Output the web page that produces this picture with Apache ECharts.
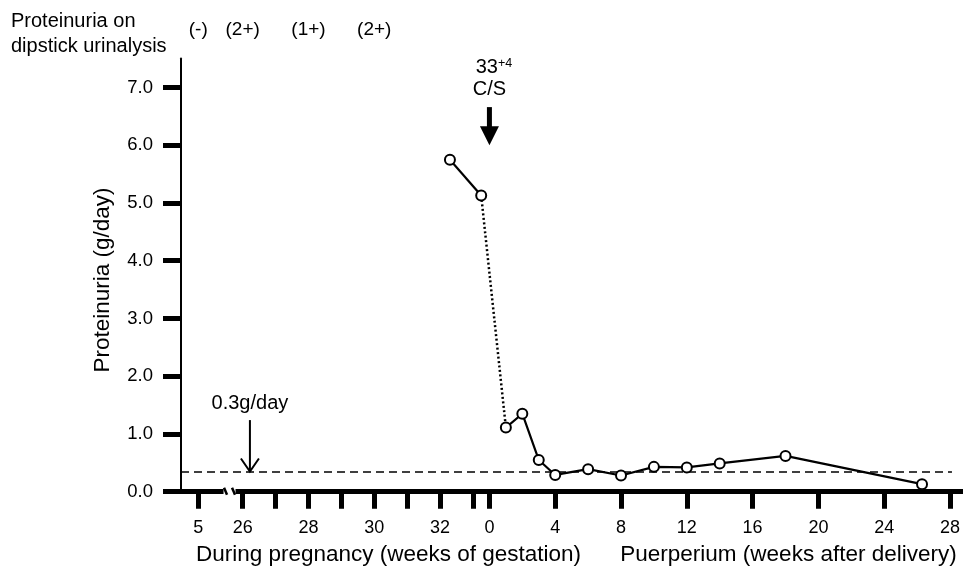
<!DOCTYPE html>
<html>
<head>
<meta charset="utf-8">
<script src="https://cdn.jsdelivr.net/npm/echarts@6/dist/echarts.min.js"></script>
<style>
html,body{margin:0;padding:0;background:#fff;}
#c{width:963px;height:566px;}
</style>
</head>
<body>
<div id="c"></div>
<script>
// ---------------- data ----------------
const pregTickWeeks  = [5, 26, 27, 28, 29, 30, 31, 32, 33];
const pregLabelWeeks = [5, 26, 28, 30, 32];
const postTickWeeks  = [0, 4, 8, 12, 16, 20, 24, 28];
const postLabelWeeks = [0, 4, 8, 12, 16, 20, 24, 28];
const yTicks = [0, 1, 2, 3, 4, 5, 6, 7];

const dipstickWeeks  = [5, 26, 28, 30];
const dipstickLabels = ['(-)', '(2+)', '(1+)', '(2+)'];

const pregWeeks  = [32.3, 33.25];          // weeks of gestation
const pregValues = [5.75, 5.13];           // g/day
const postWeeks  = [1, 2, 3, 4, 6, 8, 10, 12, 14, 18, 26.3]; // weeks after delivery
const postValues = [1.11, 1.35, 0.55, 0.29, 0.39, 0.28, 0.43, 0.42, 0.49, 0.62, 0.13];

const threshold = 0.35;         // drawn "0.3g/day" line
const thresholdLabel = '0.3g/day';
const deliveryLabel = ['33', '+4', 'C/S'];

// ---------------- axis mapping (composite time axis) ----------------
const EARLY_POS = 24.65;   // position of week 5 (before the axis break)
const DELIVERY_POS = 33.5; // gestational position of delivery (puerperium week 0)
const BREAK_POS = 25.6;
const X_MIN = 24.125, X_MAX = 47.89, THRESH_END = 47.56;
function pregU(w){ return w < 26 ? EARLY_POS : w; }
function postU(p){ return DELIVERY_POS + p / 2; }

const labelMap = {};
pregLabelWeeks.forEach(w => labelMap[pregU(w).toFixed(3)] = String(w));
postLabelWeeks.forEach(p => labelMap[postU(p).toFixed(3)] = String(p));
const tickVals = pregTickWeeks.map(pregU).concat(postTickWeeks.map(postU));
const labelVals = pregLabelWeeks.map(pregU).concat(postLabelWeeks.map(postU));
const dipMap = {};
dipstickWeeks.forEach((w, i) => dipMap[pregU(w).toFixed(3)] = dipstickLabels[i]);

const pregData = pregWeeks.map((w, i) => [pregU(w), pregValues[i]]);
const postData = postWeeks.map((p, i) => [postU(p), postValues[i]]);
const bridgeData = [pregData[pregData.length - 1], postData[0]];

const FONT = '"Liberation Sans", Arial, Helvetica, sans-serif';
const chart = echarts.init(document.getElementById('c'));

const markerStyle = { color: '#fff', borderColor: '#000', borderWidth: 2 };

const option = {
  animation: false,
  backgroundColor: '#fff',
  textStyle: { fontFamily: FONT, color: '#000' },
  grid: { left: 181, right: 0, top: 58.6, bottom: 74.3 },
  xAxis: [{
    type: 'value', min: X_MIN, max: X_MAX, position: 'bottom',
    splitLine: { show: false },
    axisLine: { lineStyle: { color: '#000', width: 5 } },
    axisTick: { customValues: tickVals, length: 17, lineStyle: { color: '#000', width: 5 } },
    axisLabel: { customValues: labelVals, margin: 27, fontSize: 18, color: '#000', fontFamily: FONT,
      formatter: v => labelMap[Number(v).toFixed(3)] || '' }
  }, {
    type: 'value', min: X_MIN, max: X_MAX, position: 'top',
    splitLine: { show: false },
    axisLine: { show: false },
    axisTick: { show: false },
    axisLabel: { customValues: dipstickWeeks.map(pregU), margin: 19, fontSize: 19, color: '#000', fontFamily: FONT,
      formatter: v => dipMap[Number(v).toFixed(3)] || '' }
  }],
  yAxis: {
    type: 'value', min: 0, max: 7.5,
    splitLine: { show: false },
    axisLine: { show: true, lineStyle: { color: '#000', width: 2 } },
    axisTick: { show: true, customValues: yTicks, length: 18, lineStyle: { color: '#000', width: 5 } },
    axisLabel: { customValues: yTicks, margin: 28, fontSize: 18.5, color: '#000', fontFamily: FONT,
      formatter: v => Number(v).toFixed(1) }
  },
  series: [
    {
      type: 'line', data: bridgeData, symbol: 'none', z: 2,
      lineStyle: { color: '#000', width: 2.5, type: [2, 2.5] }
    },
    {
      type: 'line', data: pregData, symbol: 'circle', symbolSize: 10, z: 3,
      lineStyle: { color: '#000', width: 2.2 }, itemStyle: markerStyle
    },
    {
      type: 'line', data: postData, symbol: 'circle', symbolSize: 10, z: 3,
      lineStyle: { color: '#000', width: 2.2 }, itemStyle: markerStyle,
      markLine: {
        silent: true, symbol: 'none', label: { show: false }, z: 1,
        lineStyle: { color: '#000', width: 1.5, type: [8, 5] },
        data: [[{ coord: [X_MIN, threshold] }, { coord: [THRESH_END, threshold] }]]
      }
    }
  ]
};
chart.setOption(option);

// ---------------- annotations ----------------
const P = (u, v) => chart.convertToPixel({ xAxisIndex: 0, yAxisIndex: 0 }, [u, v]);
const g = [];
// axis break
const bx = P(BREAK_POS, 0);
g.push({ type: 'rect', shape: { x: bx[0] - 6, y: bx[1] - 3.5, width: 12, height: 7 }, style: { fill: '#fff' }, z: 100 });
[-4, 4].forEach(d => g.push({ type: 'line', shape: { x1: bx[0] + d - 1.5, y1: bx[1] - 4, x2: bx[0] + d + 1.5, y2: bx[1] + 3 },
  style: { stroke: '#000', lineWidth: 2.5 }, z: 101 }));

// threshold arrow + label
const tu = 26.22;
const tTop = P(tu, 1.24), tTip = P(tu, threshold);
g.push({ type: 'line', shape: { x1: tTop[0], y1: tTop[1], x2: tTip[0], y2: tTip[1] - 1 }, style: { stroke: '#000', lineWidth: 2 }, z: 50 });
g.push({ type: 'polyline', shape: { points: [[tTip[0] - 9, tTip[1] - 13], [tTip[0], tTip[1]], [tTip[0] + 9, tTip[1] - 13]] },
  style: { stroke: '#000', lineWidth: 2, fill: null }, z: 50 });
const tl = P(tu, 1.53);
g.push({ type: 'text', x: tl[0], y: tl[1], style: { text: thresholdLabel, font: '20px ' + FONT, fill: '#000', align: 'center', verticalAlign: 'middle' } });

// delivery arrow + label
const dTop = P(DELIVERY_POS, 6.66), dTip = P(DELIVERY_POS, 6.0);
g.push({ type: 'rect', shape: { x: dTop[0] - 2.5, y: dTop[1], width: 5, height: dTip[1] - dTop[1] - 16 }, style: { fill: '#000' } });
g.push({ type: 'polygon', shape: { points: [[dTip[0] - 9.5, dTip[1] - 19], [dTip[0] + 9.5, dTip[1] - 19], [dTip[0], dTip[1]]] }, style: { fill: '#000' } });
const cs = P(DELIVERY_POS, 6.96);
g.push({ type: 'text', x: cs[0], y: cs[1], style: { text: deliveryLabel[2], font: '20px ' + FONT, fill: '#000', align: 'center', verticalAlign: 'middle' } });
const t33 = P(DELIVERY_POS, 7.34);
g.push({ type: 'text', x: t33[0] + 8.5, y: t33[1], style: { text: deliveryLabel[0], font: '20px ' + FONT, fill: '#000', align: 'right', verticalAlign: 'middle' } });
g.push({ type: 'text', x: t33[0] + 8.5, y: t33[1] - 4, style: { text: deliveryLabel[1], font: '12.5px ' + FONT, fill: '#000', align: 'left', verticalAlign: 'middle' } });

// titles
g.push({ type: 'text', x: 11, y: 21, style: { text: 'Proteinuria on', font: '20px ' + FONT, fill: '#000', align: 'left', verticalAlign: 'middle' } });
g.push({ type: 'text', x: 11, y: 46, style: { text: 'dipstick urinalysis', font: '20px ' + FONT, fill: '#000', align: 'left', verticalAlign: 'middle' } });
g.push({ type: 'text', x: 103, y: 280, rotation: Math.PI / 2, style: { text: 'Proteinuria (g/day)', font: '22.5px ' + FONT, fill: '#000', align: 'center', verticalAlign: 'middle' } });
g.push({ type: 'text', x: 388.5, y: 555, style: { text: 'During pregnancy (weeks of gestation)', font: '22.5px ' + FONT, fill: '#000', align: 'center', verticalAlign: 'middle' } });
g.push({ type: 'text', x: 788.5, y: 555, style: { text: 'Puerperium (weeks after delivery)', font: '22.5px ' + FONT, fill: '#000', align: 'center', verticalAlign: 'middle' } });

chart.setOption({ graphic: g });
</script>
</body>
</html>
